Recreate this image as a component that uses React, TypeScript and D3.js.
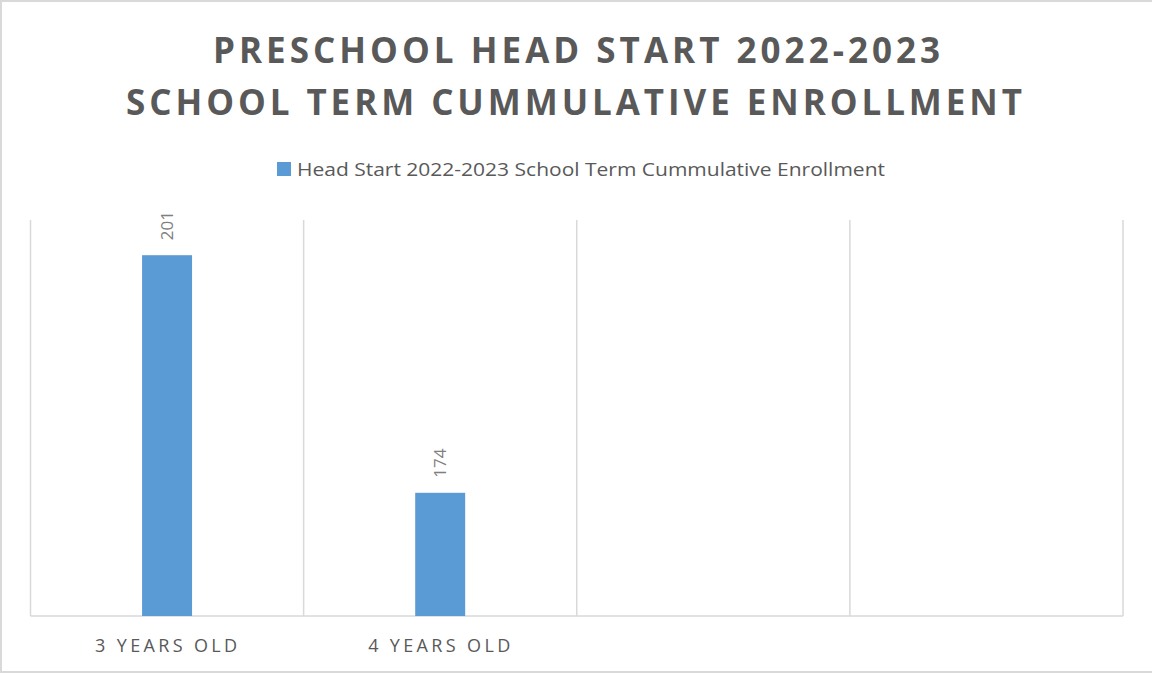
import React from 'react';
import * as d3 from 'd3';

const titleLines = ['PRESCHOOL HEAD START 2022-2023', 'SCHOOL TERM CUMMULATIVE ENROLLMENT'];
const seriesName = 'Head Start 2022-2023 School Term Cummulative Enrollment';
const categories = ['3 YEARS OLD', '4 YEARS OLD', '', ''];
const values: (number | null)[] = [201, 174, null, null];
const yDomain: [number, number] = [160, 205];

const W = 1152;
const H = 673;
const font = "'Open Sans', 'Noto Sans', sans-serif";
const barColor = '#5b9bd5';
const gridColor = '#d9d9d9';
const textColor = '#595959';

const App: React.FC = () => {
  const margin = { top: 220, right: 29, bottom: 57, left: 30.5 };
  const x = d3.scaleBand<number>()
    .domain(d3.range(categories.length))
    .range([margin.left, W - margin.right])
    .padding(0);
  const y = d3.scaleLinear().domain(yDomain).range([H - margin.bottom, margin.top]);
  const barW = x.bandwidth() * 0.183;
  const bounds = d3.range(categories.length + 1).map(i =>
    i < categories.length ? x(i)! : x(categories.length - 1)! + x.bandwidth());

  return (
    <div style={{ position: 'fixed', left: 0, top: 0 }}>
      <svg width={W} height={H} style={{ display: 'block', background: '#fff' }}>
        <rect x={1} y={1} width={W + 10} height={H - 2} fill="#fff" stroke={gridColor} strokeWidth={2} />

        {/* title */}
        <text x={576.5} y={63} textAnchor="middle" fontFamily={font} fontWeight={700}
          fontSize={35} fill={textColor} textLength={727} lengthAdjust="spacing">{titleLines[0]}</text>
        <text x={574} y={115} textAnchor="middle" fontFamily={font} fontWeight={700}
          fontSize={35} fill={textColor} textLength={896} lengthAdjust="spacing">{titleLines[1]}</text>

        {/* legend */}
        <rect x={277} y={162} width={14} height={14} fill={barColor} />
        <text x={297} y={175.5} fontFamily={font} fontSize={18} fill={textColor}
          textLength={588} lengthAdjust="spacingAndGlyphs">{seriesName}</text>

        {/* vertical gridlines */}
        {bounds.map((bx, i) => (
          <line key={i} x1={bx} x2={bx} y1={margin.top} y2={H - margin.bottom}
            stroke={gridColor} strokeWidth={1.5} />
        ))}
        <line x1={margin.left} x2={W - margin.right} y1={H - margin.bottom} y2={H - margin.bottom}
          stroke={gridColor} strokeWidth={1.5} />

        {/* bars */}
        {values.map((v, i) => v == null ? null : (
          <g key={i}>
            <rect x={x(i)! + x.bandwidth() / 2 - barW / 2} y={y(v)} width={barW}
              height={y(yDomain[0]) - y(v)} fill={barColor} />
            <text transform={`translate(${x(i)! + x.bandwidth() / 2 + 6},${y(v) - 15}) rotate(-90)`}
              fontFamily={font} fontSize={17} fill="#7f7f7f">{v}</text>
          </g>
        ))}

        {/* category labels */}
        {categories.map((c, i) => c === '' ? null : (
          <text key={i} x={x(i)! + x.bandwidth() / 2 - 1} y={652} textAnchor="middle"
            fontFamily={font} fontSize={18} fill={textColor}
            textLength={142} lengthAdjust="spacing">{c}</text>
        ))}
      </svg>
    </div>
  );
};

export default App;
